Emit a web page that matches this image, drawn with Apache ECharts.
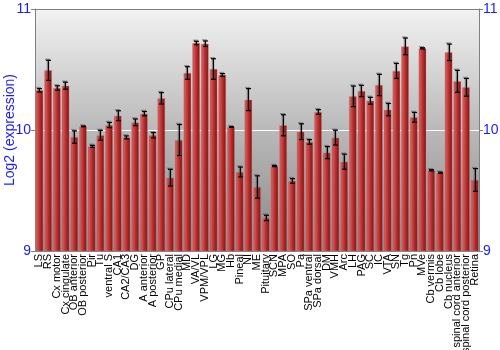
<!DOCTYPE html>
<html>
<head>
<meta charset="utf-8">
<script src="https://cdn.jsdelivr.net/npm/echarts@6/dist/echarts.min.js"></script>
<style>html,body{margin:0;padding:0;background:#fff;}#c{width:500px;height:350px;}</style>
</head>
<body>
<div id="c"></div>
<script>
var categories = ["LS","RS","Cx motor","Cx cingulate","OB anterior","OB posterior","Pir","Tu","ventral S","CA1","CA2/CA3","DG","A anterior","A posterior","GP","CPu lateral","CPu medial","MD","VA/VL","VPM/VPL","LG","MG","Hb","Pineal","NI","ME","Pituitary","SCN","MPA","SO","Pa","SPa ventral","SPa dorsal","DM","VMH","Arc","LH","PAG","SC","IC","VTA","SN","Tg","Pn","MVe","Cb vermis","Cb lobe","Cb nucleus","spinal cord anterior","spinal cord posterior","Retina"];
var means = [10.328,10.493,10.347,10.366,9.942,10.030,9.865,9.956,10.041,10.118,9.939,10.063,10.135,9.956,10.262,9.606,9.917,10.471,10.719,10.713,10.504,10.455,10.025,9.653,10.251,9.529,9.273,9.702,10.039,9.579,9.986,9.901,10.149,9.813,9.937,9.738,10.278,10.322,10.242,10.372,10.168,10.488,10.691,10.105,10.675,9.667,9.647,10.642,10.402,10.353,9.587];
var errors = [0.014,0.083,0.018,0.029,0.051,0.003,0.008,0.041,0.021,0.041,0.012,0.028,0.018,0.022,0.047,0.069,0.128,0.052,0.014,0.023,0.085,0.011,0.003,0.041,0.091,0.092,0.022,0.005,0.087,0.019,0.065,0.019,0.019,0.050,0.061,0.062,0.085,0.047,0.028,0.088,0.051,0.062,0.069,0.040,0.005,0.005,0.004,0.068,0.091,0.073,0.094];
var yTicks = [9, 10, 11];

var chart = echarts.init(document.getElementById('c'), null, {renderer: 'canvas'});
var errData = means.map(function (m, i) { return [i, m - errors[i], m + errors[i]]; });
var blue = '#1a1aff';
var font = '"Liberation Sans", Arial, sans-serif';

function yAxisCfg(pos) {
  return {
    type: 'value', position: pos, min: yTicks[0], max: yTicks[yTicks.length - 1], interval: 1,
    axisLine: {show: true, lineStyle: {color: '#808080', width: 1}},
    axisTick: {show: true, inside: false, length: 4, lineStyle: {color: '#808080'}},
    axisLabel: {color: blue, fontSize: 14, fontFamily: font, margin: 4},
    splitLine: {show: pos === 'left', lineStyle: {color: ['rgba(0,0,0,0)', '#ffffff', '#808080'], width: 1}},
    name: pos === 'left' ? 'Log2 (expression)' : '',
    nameLocation: 'middle', nameGap: 18, nameMoveOverlap: false,
    nameTextStyle: {color: blue, fontSize: 14, fontFamily: font}
  };
}

chart.setOption({
  animation: false,
  grid: {
    left: 35, right: 21, top: 9, bottom: 99, show: true,
    containLabel: false, outerBoundsMode: 'none',
    backgroundColor: new echarts.graphic.LinearGradient(0, 0, 0, 1, [
      {offset: 0, color: '#f2f2f2'},
      {offset: 0.5, color: '#b9b9b9'},
      {offset: 1, color: '#888888'}
    ]),
    borderColor: '#808080', borderWidth: 0
  },
  xAxis: {
    type: 'category', data: categories,
    axisLine: {show: true, lineStyle: {color: '#808080'}},
    axisTick: {show: false},
    axisLabel: {rotate: 90, interval: 0, color: '#000', fontSize: 11, fontFamily: font, margin: 3}
  },
  yAxis: [yAxisCfg('left'), yAxisCfg('right')],
  series: [
    {
      type: 'bar', data: means, barCategoryGap: '12%',
      itemStyle: {
        color: new echarts.graphic.LinearGradient(0, 0, 1, 0, [
          {offset: 0, color: '#c64848'},
          {offset: 0.2, color: '#cf5656'},
          {offset: 0.55, color: '#b52e2e'},
          {offset: 1, color: '#7e1212'}
        ]),
        borderColor: 'rgba(230,140,140,0.6)', borderWidth: 0.5
      }
    },
    {
      type: 'custom', data: errData, z: 10,
      renderItem: function (params, api) {
        var x = api.value(0);
        var lo = api.coord([x, api.value(1)]);
        var hi = api.coord([x, api.value(2)]);
        var cx = Math.round(lo[0]) + 0.5;
        var w = 2.5;
        var st = {stroke: '#000', lineWidth: 1.2};
        var sh = {stroke: 'rgba(60,60,60,0.45)', lineWidth: 1.5};
        return {type: 'group', children: [
          {type: 'line', shape: {x1: cx - 1, y1: lo[1], x2: cx - 1, y2: hi[1]}, style: sh},
          {type: 'line', shape: {x1: cx - w - 1, y1: hi[1] - 1, x2: cx + w - 1, y2: hi[1] - 1}, style: sh},
          {type: 'line', shape: {x1: cx, y1: lo[1], x2: cx, y2: hi[1]}, style: st},
          {type: 'line', shape: {x1: cx - w, y1: hi[1], x2: cx + w, y2: hi[1]}, style: st},
          {type: 'line', shape: {x1: cx - w, y1: lo[1], x2: cx + w, y2: lo[1]}, style: st}
        ]};
      }
    }
  ]
});
</script>
</body>
</html>
